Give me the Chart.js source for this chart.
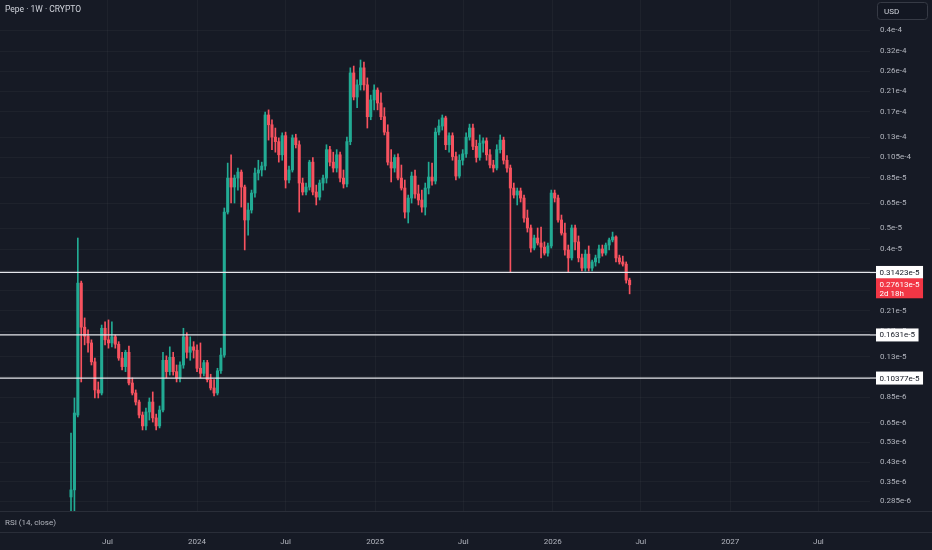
<!DOCTYPE html>
<html>
<head>
<meta charset="utf-8">
<title>Pepe 1W</title>
<script src="https://cdn.jsdelivr.net/npm/chart.js@4.4.1/dist/chart.umd.min.js"></script>
<style>
  html, body { margin: 0; padding: 0; background: #161a25; overflow: hidden; }
  #wrap { width: 932px; height: 550px; }
</style>
</head>
<body>
<div id="wrap"><canvas id="chart" width="932" height="550"></canvas></div>
<script>
// Weekly candles, prices in units of 1e-6 USD
var firstWeek = '2023-04-17';

var opens = [0.298, 0.321, 0.704, 2.81, 1.77, 1.61, 1.50, 1.23, 0.916, 0.887,
  1.75, 1.55, 1.50, 1.60, 1.48, 1.28, 1.17, 1.36, 0.985, 0.887,
  0.807, 0.704, 0.628, 0.727, 0.807, 0.683, 0.628, 0.742, 1.25, 1.11,
  1.29, 1.11, 1.04, 1.19, 1.60, 1.36, 1.44, 1.39, 1.15, 1.09,
  1.22, 1.02, 0.935, 0.887, 1.12, 1.32, 5.92, 8.46, 7.70, 8.46,
  9.01, 7.70, 5.45, 6.05, 7.23, 8.92, 9.21, 9.60, 16.4, 14.8,
  13.0, 12.4, 10.8, 13.2, 8.29, 9.21, 12.9, 12.0, 8.03, 7.31,
  7.70, 10.0, 7.31, 6.93, 8.03, 8.46, 11.4, 10.0, 9.40, 10.8,
  8.46, 7.95, 12.4, 25.5, 19.8, 22.5, 26.9, 22.5, 16.1, 19.2,
  21.3, 18.6, 16.1, 13.7, 10.0, 9.40, 10.5, 8.46, 7.62, 5.92,
  6.86, 8.64, 7.16, 6.72, 6.24, 7.62, 8.55, 8.20, 13.7, 14.6,
  15.9, 12.0, 13.2, 10.6, 8.64, 10.2, 10.9, 13.0, 14.3, 11.8,
  10.5, 12.2, 12.5, 10.8, 9.70, 9.40, 11.4, 12.6, 10.2, 9.40,
  7.62, 7.08, 7.39, 6.86, 5.56, 5.01, 4.06, 4.51, 4.28, 4.10,
  3.85, 4.15, 7.23, 6.86, 5.45, 4.75, 3.98, 3.66, 5.01, 4.33,
  3.66, 3.29, 3.81, 3.29, 3.51, 3.66, 4.02, 3.85, 4.19, 4.42,
  4.56, 3.66, 3.51, 3.43, 2.90];

var highs = [0.583, 0.842, 4.51, 2.87, 1.95, 1.72, 1.55, 1.28, 0.996, 1.81,
  1.87, 1.91, 1.87, 1.63, 1.52, 1.36, 1.39, 1.45, 1.04, 0.916,
  0.824, 0.727, 0.758, 0.842, 0.897, 0.712, 0.774, 1.36, 1.31, 1.44,
  1.36, 1.19, 1.23, 1.75, 1.67, 1.60, 1.52, 1.47, 1.50, 1.25,
  1.25, 1.08, 1.02, 1.15, 1.42, 6.18, 9.90, 10.8, 8.73, 9.40,
  9.21, 7.86, 6.51, 7.46, 9.40, 10.2, 10.0, 16.9, 17.3, 15.6,
  14.3, 12.9, 13.6, 13.7, 9.60, 13.3, 13.4, 12.5, 8.46, 8.03,
  10.2, 10.5, 7.86, 8.29, 8.73, 12.0, 11.8, 11.1, 11.4, 11.1,
  9.21, 13.0, 26.9, 27.4, 23.7, 29.2, 28.6, 24.2, 20.2, 22.5,
  21.8, 20.7, 17.7, 14.8, 11.4, 10.8, 10.9, 9.70, 8.29, 7.08,
  9.01, 9.21, 7.86, 7.46, 8.03, 10.0, 9.90, 14.3, 15.6, 16.4,
  16.2, 13.6, 13.6, 11.1, 10.8, 11.4, 13.6, 14.9, 14.9, 12.6,
  13.3, 12.9, 12.9, 11.4, 10.2, 12.0, 13.3, 13.0, 10.7, 9.70,
  8.03, 7.62, 7.62, 7.08, 6.05, 5.17, 4.65, 5.01, 5.06, 4.33,
  4.28, 7.46, 7.46, 7.08, 5.74, 5.28, 4.19, 5.17, 5.17, 4.61,
  3.81, 3.98, 4.15, 3.58, 3.77, 4.19, 4.19, 4.28, 4.51, 4.80,
  4.61, 3.77, 3.73, 3.51, 2.96];

var lows = [0.234, 0.234, 0.690, 0.996, 1.47, 1.36, 1.19, 0.842, 0.842, 0.869,
  1.47, 1.42, 1.44, 1.42, 1.25, 1.13, 1.11, 0.965, 0.869, 0.782,
  0.683, 0.602, 0.602, 0.668, 0.654, 0.602, 0.615, 0.727, 1.04, 1.07,
  1.07, 0.996, 0.996, 1.15, 1.28, 1.25, 1.28, 1.11, 1.04, 1.06,
  0.996, 0.916, 0.860, 0.869, 1.09, 1.29, 5.80, 6.51, 6.51, 7.46,
  6.24, 3.98, 4.65, 5.86, 6.93, 8.29, 8.64, 9.21, 12.6, 11.4,
  11.1, 10.0, 10.2, 7.62, 8.03, 9.01, 11.6, 5.92, 7.08, 7.08,
  7.46, 7.08, 6.38, 6.72, 7.46, 8.03, 9.60, 9.01, 9.01, 8.12,
  7.62, 7.70, 12.0, 19.2, 17.7, 21.3, 21.3, 14.3, 15.6, 17.3,
  17.3, 15.6, 13.3, 9.70, 8.12, 9.01, 8.29, 7.46, 5.56, 5.28,
  6.51, 6.86, 6.38, 5.92, 5.74, 7.16, 7.86, 7.95, 13.3, 14.0,
  11.4, 11.1, 10.2, 8.29, 8.46, 9.70, 10.5, 12.6, 11.4, 10.0,
  10.2, 11.1, 10.2, 9.40, 9.01, 9.21, 11.0, 9.80, 9.01, 3.1423,
  6.86, 6.38, 6.58, 5.33, 4.80, 3.89, 3.98, 4.19, 3.66, 3.77,
  3.73, 4.06, 6.58, 5.33, 4.65, 3.77, 3.1423, 3.58, 3.98, 3.51,
  3.19, 3.19, 3.19, 3.19, 3.36, 3.47, 3.73, 3.77, 3.98, 4.33,
  3.51, 3.43, 3.36, 2.81, 2.51];

var closes = [0.321, 0.719, 2.81, 1.77, 1.61, 1.50, 1.23, 0.916, 0.887, 1.75,
  1.55, 1.50, 1.60, 1.48, 1.28, 1.17, 1.36, 0.985, 0.887, 0.807,
  0.704, 0.628, 0.727, 0.807, 0.683, 0.628, 0.742, 1.25, 1.11, 1.29,
  1.11, 1.04, 1.19, 1.60, 1.36, 1.44, 1.39, 1.15, 1.09, 1.22,
  1.02, 0.935, 0.887, 1.12, 1.32, 5.92, 8.46, 7.70, 8.46, 9.01,
  7.70, 5.45, 6.05, 7.23, 8.92, 9.21, 9.60, 16.4, 14.8, 13.0,
  12.4, 10.8, 13.2, 8.29, 9.21, 12.9, 12.0, 8.03, 7.31, 7.70,
  10.0, 7.31, 6.93, 8.03, 8.46, 11.4, 10.0, 9.40, 10.8, 8.46,
  7.95, 12.4, 25.5, 19.8, 22.5, 26.9, 22.5, 16.1, 19.2, 21.3,
  18.6, 16.1, 13.7, 10.0, 9.40, 10.5, 8.46, 7.62, 5.92, 6.86,
  8.64, 7.16, 6.72, 6.24, 7.62, 8.55, 8.20, 13.7, 14.6, 15.9,
  12.0, 13.2, 10.6, 8.64, 10.2, 10.9, 13.0, 14.3, 11.8, 10.5,
  12.2, 12.5, 10.8, 9.70, 9.40, 11.4, 12.6, 10.2, 9.40, 7.62,
  7.08, 7.39, 6.86, 5.56, 5.01, 4.06, 4.51, 4.28, 4.10, 3.85,
  4.15, 7.23, 6.86, 5.45, 4.75, 3.98, 3.66, 5.01, 4.33, 3.66,
  3.29, 3.81, 3.29, 3.51, 3.66, 4.02, 3.85, 4.19, 4.42, 4.56,
  3.66, 3.51, 3.43, 2.90, 2.7613];

// Horizontal price levels
var levels = [3.1423, 1.631, 1.0377];
var levelLabels = ['0.31423e-5', '0.1631e-5', '0.10377e-5'];
var lastLabel = '0.27613e-5';
var countdown = '2d 18h';

// Price axis ticks
var priceTicks = [40, 32, 26, 21, 17, 13, 10.5, 8.5, 6.5, 5, 4, 3.2, 2.6, 2.1, 1.7, 1.3, 1.05, 0.85, 0.65, 0.53, 0.43, 0.35, 0.285];
var priceTickLabels = ['0.4e-4', '0.32e-4', '0.26e-4', '0.21e-4', '0.17e-4', '0.13e-4', '0.105e-4', '0.85e-5', '0.65e-5', '0.5e-5', '0.4e-5',
  '0.32e-5', '0.26e-5', '0.21e-5', '0.17e-5', '0.13e-5', '0.105e-5', '0.85e-6', '0.65e-6', '0.53e-6', '0.43e-6', '0.35e-6', '0.285e-6'];

// Time axis ticks
var timeTickDates = ['2023-07-01', '2024-01-01', '2024-07-01', '2025-01-01', '2025-07-01', '2026-01-01', '2026-07-01', '2027-01-01', '2027-07-01'];
var timeTickLabels = ['Jul', '2024', 'Jul', '2025', 'Jul', '2026', 'Jul', '2027', 'Jul'];

// Visible window, in weeks from firstWeek, and in price
var viewStart = -20.85;
var viewEnd = 234.58;
var priceMin = 0.2572;
var priceMax = 54.8;

var upColor = '#22ab94';
var downColor = '#f7525f';
var gridColor = 'rgba(255,255,255,0.035)';
var textColor = '#b2b5be';
var fontFamily = 'Roboto, "Noto Sans", sans-serif';

var WEEK = 7 * 24 * 3600 * 1000;
var timeTickPos = timeTickDates.map(function (d) {
  return (Date.parse(d) - Date.parse(firstWeek)) / WEEK;
});

var candleColors = closes.map(function (c, i) { return c >= opens[i] ? upColor : downColor; });
var wickData = opens.map(function (o, i) { return { x: i, y: [lows[i], highs[i]] }; });
var bodyData = opens.map(function (o, i) { return { x: i, y: [o, closes[i]] }; });

var levelSets = levels.map(function (v) {
  return {
    type: 'line',
    data: [{ x: viewStart, y: v }, { x: viewEnd, y: v }],
    borderColor: '#e6e7ec',
    borderWidth: 1.2,
    pointRadius: 0,
    order: 0
  };
});

// Price tag on the right axis
function tag(ctx, x, y, text, fill, color) {
  ctx.font = '8px ' + fontFamily;
  var w = ctx.measureText(text).width + 7;
  ctx.fillStyle = fill;
  ctx.fillRect(x, y - 6.5, w, 13);
  ctx.fillStyle = color;
  ctx.textBaseline = 'middle';
  ctx.textAlign = 'left';
  ctx.fillText(text, x + 3.5, y + 0.5);
}

var decorations = {
  id: 'decorations',
  beforeDraw: function (chart) {
    var ctx = chart.ctx;
    ctx.save();
    ctx.fillStyle = '#161a25';
    ctx.fillRect(0, 0, chart.width, chart.height);
    ctx.restore();
  },
  afterDraw: function (chart) {
    var ctx = chart.ctx;
    var area = chart.chartArea;
    var y = chart.scales.y;
    ctx.save();

    // level lines run up to their tags
    ctx.strokeStyle = '#e6e7ec';
    ctx.lineWidth = 1.2;
    levels.forEach(function (v) {
      var py = y.getPixelForValue(v);
      ctx.beginPath();
      ctx.moveTo(area.right, py);
      ctx.lineTo(area.right + 6, py);
      ctx.stroke();
    });

    // RSI pane strip
    ctx.strokeStyle = '#2a2e39';
    ctx.lineWidth = 1;
    ctx.beginPath();
    ctx.moveTo(0, area.bottom + 0.5); ctx.lineTo(chart.width, area.bottom + 0.5);
    ctx.moveTo(0, area.bottom + 21.5); ctx.lineTo(chart.width, area.bottom + 21.5);
    ctx.stroke();
    ctx.fillStyle = textColor;
    ctx.font = '8px ' + fontFamily;
    ctx.textBaseline = 'middle';
    ctx.fillText('RSI (14, close)', 5, area.bottom + 11.5);

    // title
    ctx.fillStyle = '#d1d4dc';
    ctx.font = '8.5px ' + fontFamily;
    ctx.fillText('Pepe \u00b7 1W \u00b7 CRYPTO', 5, 10);

    // level tags
    levels.forEach(function (v, i) {
      tag(ctx, area.right + 6, y.getPixelForValue(v), levelLabels[i], '#ffffff', '#131722');
    });

    // last price tag with countdown
    var lastY = y.getPixelForValue(closes[closes.length - 1]);
    ctx.font = '8px ' + fontFamily;
    var w = ctx.measureText(lastLabel).width + 7;
    ctx.fillStyle = '#f23645';
    ctx.fillRect(area.right + 6, lastY - 6.5, w, 20);
    ctx.fillStyle = '#ffffff';
    ctx.textBaseline = 'middle';
    ctx.fillText(lastLabel, area.right + 9.5, lastY + 0.5);
    ctx.fillText(countdown, area.right + 9.5, lastY + 9);

    // currency box
    ctx.fillStyle = '#131722';
    ctx.strokeStyle = '#363a45';
    ctx.beginPath();
    ctx.roundRect(877.5, 2.5, 50, 17, 3);
    ctx.fill();
    ctx.stroke();
    ctx.fillStyle = '#d1d4dc';
    ctx.fillText('USD', 884, 11.5);

    ctx.restore();
  }
};

var chart = new Chart(document.getElementById('chart'), {
  data: {
    datasets: [
      {
        type: 'bar',
        data: bodyData,
        backgroundColor: candleColors,
        barThickness: 2.4,
        minBarLength: 1,
        grouped: false,
        order: 1
      },
      {
        type: 'bar',
        data: wickData,
        backgroundColor: candleColors,
        barThickness: 1,
        grouped: false,
        order: 2
      }
    ].concat(levelSets)
  },
  options: {
    responsive: false,
    animation: false,
    devicePixelRatio: 1,
    layout: { padding: 0 },
    plugins: {
      legend: { display: false },
      tooltip: { enabled: false }
    },
    scales: {
      x: {
        type: 'linear',
        min: viewStart,
        max: viewEnd,
        offset: false,
        grid: { color: gridColor, drawTicks: false, offset: false },
        border: { display: false },
        afterBuildTicks: function (s) {
          s.ticks = timeTickPos.map(function (v) { return { value: v }; });
        },
        ticks: {
          autoSkip: false,
          maxRotation: 0,
          padding: 26,
          color: textColor,
          font: { family: fontFamily, size: 8 },
          callback: function (v, i) { return timeTickLabels[i]; }
        },
        afterFit: function (s) {
          s.height = 39;
          s.paddingLeft = 0;
          s.paddingRight = 0;
        }
      },
      y: {
        type: 'logarithmic',
        position: 'right',
        min: priceMin,
        max: priceMax,
        grid: { color: gridColor, drawTicks: false },
        border: { display: false },
        afterBuildTicks: function (s) {
          s.ticks = priceTicks.map(function (v) { return { value: v }; });
        },
        ticks: {
          autoSkip: false,
          padding: 10,
          color: textColor,
          font: { family: fontFamily, size: 8 },
          callback: function (v, i) { return priceTickLabels[i]; }
        },
        afterFit: function (s) {
          s.width = 62;
          s.paddingTop = 0;
          s.paddingBottom = 0;
        }
      }
    }
  },
  plugins: [decorations]
});
</script>
</body>
</html>
